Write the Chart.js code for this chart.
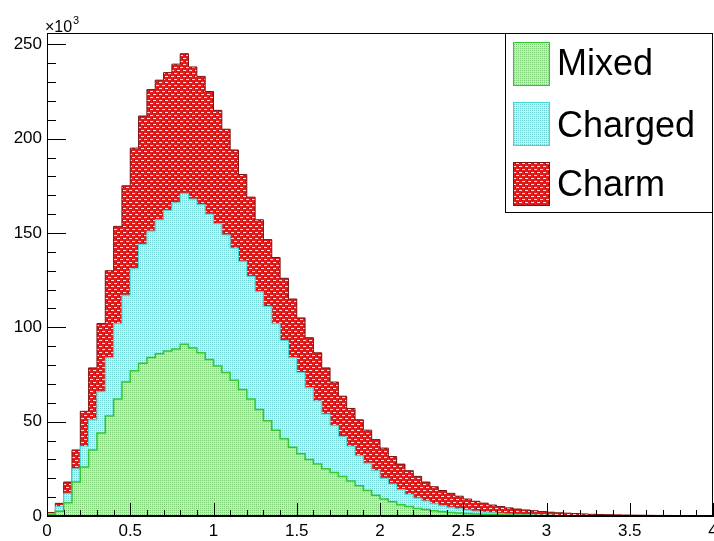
<!DOCTYPE html>
<html>
<head>
<meta charset="utf-8">
<script src="https://cdn.jsdelivr.net/npm/chart.js@4.4.0/dist/chart.umd.min.js"></script>
<style>
html, body { margin: 0; padding: 0; background: #fff; }
</style>
</head>
<body>
<canvas id="chart" width="714" height="541"></canvas>
<script>
// histogram binning: 80 bins of 0.05 from 0 to 4 (values in units of 10^3)
const binWidth = 0.05;
const xTicks = [0, 0.5, 1, 1.5, 2, 2.5, 3, 3.5, 4];
const yTicks = [0, 50, 100, 150, 200, 250];
const labels = ['Mixed', 'Charged', 'Charm'];

const mixed = [0.6, 2.5, 7, 18, 26, 35, 44, 53, 62, 71, 77, 81, 84, 86, 87.5, 88.5,
  91, 89, 86.5, 83, 79.5, 76, 72, 67, 62, 56.5, 50.5, 45.5, 41, 36.5, 33, 30,
  27.5, 25, 23, 21, 18.5, 16, 13.5, 11, 9, 7.5, 6, 5, 4, 3.4, 2.8, 2.3,
  1.9, 1.6, 1.3, 1.1, 0.9, 0.75, 0.6, 0.5, 0.4, 0.35, 0.3, 0.25, 0.2, 0.15, 0.12, 0.1,
  0.08, 0.06, 0.05, 0.04, 0.03, 0.02, 0.02, 0.01, 0.01, 0, 0, 0, 0, 0, 0, 0];

const charged = [0.7, 2.5, 5, 7, 11, 16, 22, 31, 40, 46, 54, 63, 67, 71, 74.5, 77.5,
  80, 79, 78.5, 77, 75.5, 73, 70, 68, 65, 62.5, 60.5, 56.5, 52, 47.5, 43, 38,
  33.5, 29, 25, 21, 18.5, 16, 14.5, 13, 11, 9.5, 8, 6.5, 5.5, 4.6, 3.7, 3.2,
  2.7, 2.2, 1.9, 1.5, 1.2, 0.95, 0.8, 0.6, 0.5, 0.35, 0.25, 0.2, 0.15, 0.15, 0.13, 0.1,
  0.07, 0.06, 0.05, 0.04, 0.03, 0.03, 0.02, 0.02, 0.01, 0.01, 0.01, 0.01, 0, 0, 0, 0];

const charm = [0.5, 1.7, 6, 10, 18.5, 27.5, 36, 46, 51.5, 58, 64, 68, 75, 74, 73, 73.5,
  74, 70, 68, 65, 60, 56, 52, 46, 42, 38, 35.5, 35, 33, 31, 29, 26.5,
  25.5, 24.5, 23, 21.5, 20, 19, 17.5, 16.5, 16, 14.5, 13.5, 12.5, 11.5, 10, 9, 8,
  7.4, 6.7, 5.8, 5.2, 4.7, 4.1, 3.6, 3.2, 2.8, 2.5, 2.25, 1.95, 1.65, 1.4, 1.25, 1.1,
  0.95, 0.78, 0.7, 0.62, 0.54, 0.45, 0.41, 0.37, 0.33, 0.28, 0.29, 0.24, 0.2, 0.2, 0.15, 0.15];

function toSteps(values) {
  // points at bin lower edges, plus closing point at the upper edge
  const pts = values.map((v, i) => ({ x: +(i * binWidth).toFixed(2), y: v }));
  pts.push({ x: +(values.length * binWidth).toFixed(2), y: values[values.length - 1] });
  return pts;
}

function makePattern(w, h, bg, draw) {
  const c = document.createElement('canvas');
  c.width = w; c.height = h;
  const g = c.getContext('2d');
  g.fillStyle = bg;
  g.fillRect(0, 0, w, h);
  draw(g);
  return g.createPattern(c, 'repeat');
}

const greenFill = makePattern(2, 2, 'rgb(192,238,186)', g => {
  g.fillStyle = 'rgb(125,205,118)'; g.fillRect(0, 0, 1, 1);
});
const cyanFill = makePattern(2, 2, 'rgb(192,243,243)', g => {
  g.fillStyle = 'rgb(110,208,208)'; g.fillRect(0, 0, 1, 1);
});
const redFill = makePattern(6, 6, 'rgb(228,30,30)', g => {
  g.fillStyle = 'rgb(255,225,225)';
  g.fillRect(0, 1, 3, 1);
  g.fillRect(3, 4, 3, 1);
  g.fillStyle = 'rgb(180,22,22)';
  g.fillRect(5, 0, 1, 3);
  g.fillRect(2, 3, 1, 3);
});

const fills = [greenFill, cyanFill, redFill];
const borders = ['rgb(50,200,50)', 'rgb(60,215,215)', 'rgb(120,20,20)'];

const rootDecor = {
  id: 'rootDecor',
  afterDatasetsDraw(chart) {
    const { ctx, chartArea: a, scales: { x, y } } = chart;
    ctx.save();
    ctx.strokeStyle = '#000';
    ctx.lineWidth = 1;
    // frame
    ctx.strokeRect(a.left + 0.5, a.top + 0.5, a.right - a.left - 1, a.bottom - a.top - 1);
    // y ticks: major every 50, minor every 10
    ctx.beginPath();
    for (let i = 0; i <= 25; i++) {
      const py = Math.round(y.getPixelForValue(i * 10)) + 0.5;
      const len = i % 5 === 0 ? 19 : 9;
      ctx.moveTo(a.left, py);
      ctx.lineTo(a.left + len, py);
    }
    // x ticks: major every 0.5, minor every 0.1
    for (let i = 0; i <= 40; i++) {
      const px = Math.round(x.getPixelForValue(i / 10)) + 0.5;
      const len = i % 5 === 0 ? 13 : 6;
      ctx.moveTo(px, a.bottom);
      ctx.lineTo(px, a.bottom - len);
    }
    ctx.stroke();

    // x10^3 multiplier
    ctx.fillStyle = '#000';
    ctx.textBaseline = 'alphabetic';
    ctx.font = '16px "Liberation Sans", Arial, sans-serif';
    ctx.fillText('\u00d710', 45, 32);
    ctx.font = '11px "Liberation Sans", Arial, sans-serif';
    ctx.fillText('3', 73, 24);

    // legend
    const lx = 505, ly = 33, lw = 208, lh = 180;
    ctx.fillStyle = '#fff';
    ctx.fillRect(lx, ly, lw, lh);
    ctx.strokeStyle = '#000';
    ctx.strokeRect(lx + 0.5, ly + 0.5, lw - 1, lh - 1);
    const rows = [42, 102, 162];
    const bases = [75, 137, 196];
    ctx.font = '36px "Liberation Sans", Arial, sans-serif';
    labels.forEach((t, i) => {
      ctx.fillStyle = fills[i];
      ctx.fillRect(513, rows[i], 37, 44);
      ctx.strokeStyle = borders[i];
      ctx.strokeRect(513.5, rows[i] + 0.5, 36, 43);
      ctx.fillStyle = '#000';
      ctx.fillText(t, 557, bases[i]);
    });
    ctx.restore();
  }
};

const series = [mixed, charged, charm];
const ctx = document.getElementById('chart').getContext('2d');
new Chart(ctx, {
  type: 'line',
  data: {
    datasets: series.map((vals, i) => ({
      label: labels[i],
      data: toSteps(vals),
      stepped: 'before',
      fill: i === 0 ? 'origin' : '-1',
      backgroundColor: fills[i],
      borderColor: borders[i],
      borderWidth: i === 0 ? 1.5 : 1,
      pointRadius: 0,
      tension: 0
    }))
  },
  options: {
    responsive: false,
    animation: false,
    layout: { padding: { top: 33, right: 1, left: 0, bottom: 0 } },
    plugins: {
      legend: { display: false },
      tooltip: { enabled: false }
    },
    scales: {
      x: {
        type: 'linear',
        min: 0,
        max: 4,
        grid: { display: false, drawTicks: false, tickLength: 0 },
        border: { display: true, color: '#000', width: 1 },
        afterBuildTicks: s => { s.ticks = xTicks.map(v => ({ value: v })); },
        afterFit: s => { s.height = 25; s.paddingLeft = 0; s.paddingRight = 0; },
        ticks: {
          maxRotation: 0,
          autoSkip: false,
          padding: 5,
          color: '#000',
          callback: v => String(+v),
          font: { family: '"Liberation Sans", Arial, sans-serif', size: 17 }
        }
      },
      y: {
        stacked: true,
        min: 0,
        max: 256,
        grid: { display: false, drawTicks: false, tickLength: 0 },
        border: { display: true, color: '#000', width: 1 },
        afterBuildTicks: s => { s.ticks = yTicks.map(v => ({ value: v })); },
        afterFit: s => { s.width = 47; s.paddingTop = 0; s.paddingBottom = 0; },
        ticks: {
          padding: 5,
          color: '#000',
          font: { family: '"Liberation Sans", Arial, sans-serif', size: 17 }
        }
      }
    }
  },
  plugins: [rootDecor]
});
</script>
</body>
</html>
